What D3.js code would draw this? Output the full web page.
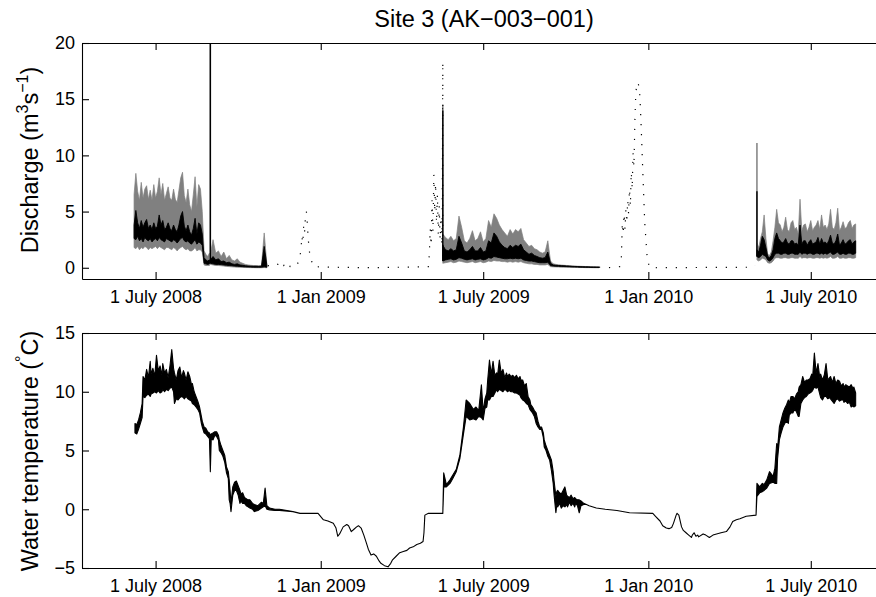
<!DOCTYPE html>
<html>
<head>
<meta charset="utf-8">
<script src="https://cdn.jsdelivr.net/npm/d3@7"></script>
<style>
  body { margin: 0; background: #fff; }
  svg { display: block; font-family: "Liberation Sans", Arial, Helvetica, sans-serif; }
</style>
</head>
<body>
<svg id="chart" width="876" height="597"></svg>
<script>
// ---- discharge bands: grey = bounds, black = estimate (regular steps from a start date) ----
const q08aStart = "2008-06-07", q08aStep = 2;
const q08aGreyHi  = [6.5, 8.4, 6.8, 6.0, 7.6, 6.2, 7.0, 7.3, 6.1, 6.9, 6.0, 7.4, 6.2, 6.8, 8.0, 6.5, 7.5, 6.0, 6.6, 7.2, 6.2, 6.0, 7.0, 6.1, 5.8, 6.9, 8.0, 8.5, 6.4, 5.8, 7.0, 5.6, 5.0, 6.5, 8.1, 5.4, 7.4, 7.0, 5.0, 1.5, 1.2, 1.0, 1.3];
const q08aBlackHi = [3.8, 5.1, 4.0, 3.5, 4.2, 3.6, 4.0, 4.3, 3.5, 3.8, 3.4, 4.0, 3.5, 3.7, 4.7, 3.8, 4.2, 3.4, 3.6, 4.0, 3.5, 3.3, 3.8, 3.4, 3.2, 3.8, 4.6, 5.0, 3.7, 3.3, 3.8, 3.2, 2.9, 3.5, 4.4, 3.0, 4.0, 3.8, 3.0, 0.9, 0.7, 0.6, 0.7];
const q08aBlackLo = [2.6, 2.5, 2.8, 2.4, 2.6, 2.3, 2.7, 2.5, 2.4, 2.6, 2.3, 2.5, 2.6, 2.4, 2.7, 2.5, 2.4, 2.3, 2.6, 2.5, 2.4, 2.3, 2.5, 2.4, 2.2, 2.4, 2.6, 2.7, 2.4, 2.3, 2.4, 2.2, 2.1, 2.3, 2.5, 2.1, 2.3, 2.2, 2.0, 0.4, 0.35, 0.3, 0.35];
const q08aGreyLo  = [1.8, 1.7, 1.9, 1.6, 1.8, 1.7, 1.9, 1.8, 1.6, 1.8, 1.7, 1.8, 1.9, 1.7, 1.9, 1.8, 1.7, 1.6, 1.8, 1.8, 1.7, 1.6, 1.8, 1.7, 1.5, 1.7, 1.8, 1.9, 1.7, 1.6, 1.7, 1.5, 1.5, 1.6, 1.8, 1.5, 1.6, 1.6, 1.4, 0.25, 0.2, 0.2, 0.2];

const q08bStart = "2008-08-31", q08bStep = 3;
const q08bGreyHi  = [1.2, 2.5, 1.3, 1.5, 1.0, 1.4, 0.8, 1.1, 0.7, 0.6, 0.8, 0.5, 0.4, 0.3, 0.25, 0.22, 0.2, 0.2, 0.18, 0.2, 3.1, 0.3];
const q08bBlackHi = [0.7, 1.0, 0.7, 0.8, 0.55, 0.6, 0.45, 0.5, 0.35, 0.3, 0.35, 0.25, 0.22, 0.18, 0.15, 0.14, 0.13, 0.13, 0.12, 0.14, 1.9, 0.2];
const q08bBlackLo = [0.4, 0.35, 0.3, 0.3, 0.28, 0.25, 0.22, 0.2, 0.18, 0.15, 0.14, 0.12, 0.1, 0.08, 0.07, 0.06, 0.05, 0.05, 0.05, 0.05, 0.08, 0.05];
const q08bGreyLo  = [0.3, 0.25, 0.2, 0.2, 0.18, 0.15, 0.12, 0.1, 0.08, 0.06, 0.05, 0.04, 0.03, 0.02, 0.02, 0.01, 0.01, 0.0, 0.0, 0.0, 0.02, 0.0];

const q09Start = "2009-05-17", q09Step = 3;
const q09GreyHi  = [3.0, 2.7, 2.5, 2.8, 2.4, 2.6, 4.6, 3.6, 2.4, 2.2, 2.6, 3.3, 2.4, 2.6, 3.2, 2.3, 2.6, 4.2, 3.6, 4.8, 4.4, 3.8, 3.4, 3.1, 2.8, 3.4, 3.0, 3.4, 3.2, 3.5, 2.5, 2.2, 1.9, 2.0, 1.7, 1.6, 1.4, 1.3, 1.4, 2.4, 0.6, 0.35, 0.3, 0.26, 0.24, 0.22, 0.2, 0.18, 0.16, 0.15, 0.14, 0.13, 0.12, 0.11, 0.1, 0.1, 0.09, 0.09, 0.08];
const q09BlackHi = [2.0, 1.6, 1.5, 1.7, 1.5, 1.6, 2.8, 2.2, 1.5, 1.4, 1.6, 1.9, 1.5, 1.5, 1.8, 1.4, 1.5, 2.4, 2.2, 3.1, 2.8, 2.3, 2.0, 1.8, 1.7, 2.0, 1.8, 2.0, 1.9, 2.1, 1.6, 1.4, 1.2, 1.3, 1.1, 1.0, 0.9, 0.85, 0.9, 1.4, 0.4, 0.25, 0.22, 0.2, 0.19, 0.18, 0.16, 0.15, 0.13, 0.12, 0.11, 0.1, 0.09, 0.08, 0.08, 0.07, 0.07, 0.06, 0.06];
const q09BlackLo = [0.6, 0.7, 0.75, 0.8, 0.7, 0.75, 0.9, 0.85, 0.75, 0.7, 0.75, 0.8, 0.7, 0.75, 0.8, 0.7, 0.75, 0.9, 0.85, 1.0, 0.95, 0.9, 0.85, 0.8, 0.8, 0.85, 0.8, 0.85, 0.8, 0.85, 0.7, 0.65, 0.6, 0.6, 0.55, 0.5, 0.45, 0.45, 0.45, 0.5, 0.2, 0.15, 0.14, 0.13, 0.12, 0.11, 0.1, 0.09, 0.08, 0.07, 0.06, 0.05, 0.05, 0.04, 0.04, 0.03, 0.03, 0.03, 0.02];
const q09GreyLo  = [0.4, 0.45, 0.5, 0.55, 0.45, 0.5, 0.6, 0.55, 0.5, 0.45, 0.5, 0.55, 0.45, 0.5, 0.55, 0.45, 0.5, 0.6, 0.55, 0.65, 0.6, 0.6, 0.55, 0.55, 0.5, 0.55, 0.5, 0.55, 0.5, 0.55, 0.45, 0.4, 0.35, 0.35, 0.3, 0.3, 0.25, 0.25, 0.25, 0.3, 0.1, 0.08, 0.07, 0.06, 0.05, 0.05, 0.04, 0.04, 0.03, 0.03, 0.02, 0.02, 0.02, 0.01, 0.01, 0.01, 0.0, 0.0, 0.0];

const q10Start = "2010-05-02", q10Step = 2;
const q10GreyHi  = [2.2, 1.8, 2.6, 3.2, 4.7, 2.6, 1.2, 1.1, 1.4, 2.4, 3.6, 5.2, 4.0, 3.8, 3.2, 3.6, 4.5, 3.4, 3.2, 4.0, 4.2, 3.4, 3.6, 3.0, 6.1, 3.3, 3.8, 3.9, 3.2, 3.6, 4.2, 3.3, 3.6, 3.8, 4.2, 3.4, 4.7, 3.6, 3.8, 3.4, 3.9, 5.2, 3.6, 3.4, 4.0, 5.3, 3.3, 3.6, 4.1, 3.5, 3.6, 4.0, 4.2, 3.5, 3.8, 3.9];
const q10BlackHi = [1.6, 1.4, 2.0, 2.8, 2.5, 1.8, 1.0, 0.9, 1.1, 1.6, 2.6, 3.1, 2.6, 2.4, 2.2, 2.3, 2.6, 2.2, 2.1, 2.4, 2.4, 2.1, 2.2, 2.0, 3.8, 2.1, 2.4, 2.4, 2.0, 2.3, 2.5, 2.1, 2.2, 2.3, 2.7, 2.1, 2.6, 2.2, 2.3, 2.1, 2.4, 2.9, 2.2, 2.1, 2.4, 3.0, 2.0, 2.2, 2.5, 2.1, 2.2, 2.4, 2.5, 2.1, 2.3, 2.4];
const q10BlackLo = [1.0, 0.9, 1.0, 1.2, 1.1, 1.0, 0.7, 0.6, 0.7, 0.9, 1.2, 1.3, 1.3, 1.2, 1.2, 1.3, 1.3, 1.2, 1.2, 1.3, 1.3, 1.2, 1.2, 1.2, 1.4, 1.2, 1.3, 1.3, 1.2, 1.3, 1.3, 1.2, 1.2, 1.3, 1.3, 1.2, 1.3, 1.2, 1.3, 1.2, 1.3, 1.4, 1.2, 1.2, 1.3, 1.4, 1.2, 1.2, 1.3, 1.2, 1.2, 1.3, 1.3, 1.2, 1.2, 1.3];
const q10GreyLo  = [0.7, 0.6, 0.7, 0.85, 0.8, 0.7, 0.45, 0.4, 0.45, 0.6, 0.85, 0.9, 0.9, 0.85, 0.85, 0.9, 0.9, 0.85, 0.85, 0.9, 0.9, 0.85, 0.85, 0.85, 1.0, 0.85, 0.9, 0.9, 0.85, 0.9, 0.9, 0.85, 0.85, 0.9, 0.9, 0.85, 0.9, 0.85, 0.9, 0.85, 0.9, 1.0, 0.85, 0.85, 0.9, 1.0, 0.85, 0.85, 0.9, 0.85, 0.85, 0.9, 0.9, 0.85, 0.85, 0.9];

// single-reading flow spikes: [date, base, grey peak, black peak]
const flowSpikes = [
  ["2008-08-31", 0.4, 20, 20],
  ["2009-05-17", 0.6, 14.5, 14],
  ["2010-05-02", 1.0, 11.1, 6.8]
];

// ---- winter (estimated) discharge, drawn dotted: [date, value] ----
const winter0809 = [
  ["2008-11-03", 0.2], ["2008-11-08", 0.1], ["2008-11-14", 0.3], ["2008-11-19", 0.6], ["2008-11-21", 0.2],
  ["2008-11-25", 0.5], ["2008-11-28", 0.1], ["2008-12-04", 0.1], ["2008-12-08", 0.6], ["2008-12-10", 1.6],
  ["2008-12-11", 2.8], ["2008-12-12", 2.2], ["2008-12-13", 3.8], ["2008-12-14", 3.2], ["2008-12-15", 4.6],
  ["2008-12-16", 5.0], ["2008-12-17", 4.0], ["2008-12-18", 2.6], ["2008-12-20", 1.0], ["2008-12-24", 0.1],
  ["2009-01-15", 0.05], ["2009-03-01", 0.0], ["2009-05-01", 0.1], ["2009-05-02", 1.3], ["2009-05-03", 3.5],
  ["2009-05-04", 2.0], ["2009-05-05", 6.0], ["2009-05-06", 3.2], ["2009-05-07", 8.3], ["2009-05-08", 5.0],
  ["2009-05-09", 7.5], ["2009-05-10", 4.0], ["2009-05-11", 6.5], ["2009-05-12", 3.0], ["2009-05-13", 5.5],
  ["2009-05-14", 2.5], ["2009-05-15", 4.5], ["2009-05-16", 2.0], ["2009-05-17", 18.3], ["2009-05-17", 0.6]
];
const winter0910 = [
  ["2009-11-07", 0.05], ["2009-11-19", 0.02], ["2009-11-30", 0.1], ["2009-12-02", 1.0], ["2009-12-03", 4.0],
  ["2009-12-04", 3.0], ["2009-12-05", 4.8], ["2009-12-06", 3.4], ["2009-12-07", 5.2], ["2009-12-08", 4.0],
  ["2009-12-09", 6.0], ["2009-12-10", 4.8], ["2009-12-11", 7.0], ["2009-12-12", 5.5], ["2009-12-13", 8.5],
  ["2009-12-14", 7.0], ["2009-12-15", 10.2], ["2009-12-16", 9.0], ["2009-12-17", 13.0], ["2009-12-18", 15.5],
  ["2009-12-19", 16.2], ["2009-12-20", 16.5], ["2009-12-21", 16.3], ["2009-12-22", 16.0], ["2009-12-23", 14.5],
  ["2009-12-24", 12.6], ["2009-12-26", 8.2], ["2009-12-28", 4.0], ["2009-12-31", 0.6], ["2010-01-03", 0.0],
  ["2010-04-28", 0.05], ["2010-04-30", 0.2]
];

// ---- water temperature: [date, low, high] ----
const tempRows = [
  ["2008-06-08", 6.5, 7.3], ["2008-06-10", 6.4, 7.2], ["2008-06-12", 6.8, 7.6], ["2008-06-14", 7.3, 8.2],
  ["2008-06-16", 7.8, 9.0], ["2008-06-17", 9.6, 11.3], ["2008-06-19", 9.5, 11.0], ["2008-06-21", 9.7, 11.9],
  ["2008-06-23", 9.8, 11.2], ["2008-06-25", 9.6, 12.6], ["2008-06-26", 9.8, 11.5], ["2008-06-28", 9.9, 12.0],
  ["2008-06-30", 10.0, 11.3], ["2008-07-02", 9.9, 13.1], ["2008-07-04", 10.1, 11.8], ["2008-07-06", 9.9, 12.2],
  ["2008-07-08", 10.0, 11.4], ["2008-07-09", 10.2, 12.4], ["2008-07-11", 10.0, 11.6], ["2008-07-13", 10.2, 11.9],
  ["2008-07-15", 10.1, 11.2], ["2008-07-17", 10.3, 12.2], ["2008-07-19", 10.4, 13.6], ["2008-07-21", 10.0, 12.0],
  ["2008-07-22", 9.0, 11.6], ["2008-07-24", 9.4, 11.0], ["2008-07-26", 9.3, 11.8], ["2008-07-28", 9.5, 12.1],
  ["2008-07-30", 9.6, 11.2], ["2008-08-01", 9.5, 11.8], ["2008-08-02", 9.4, 11.6], ["2008-08-04", 9.6, 11.0],
  ["2008-08-06", 9.4, 11.7], ["2008-08-08", 9.3, 11.3], ["2008-08-10", 9.2, 10.6], ["2008-08-11", 9.0, 10.7],
  ["2008-08-13", 8.9, 10.0], ["2008-08-15", 8.7, 9.6], ["2008-08-17", 8.5, 9.2], ["2008-08-19", 8.2, 8.7],
  ["2008-08-21", 7.3, 7.9], ["2008-08-22", 7.0, 7.5], ["2008-08-24", 6.5, 7.0], ["2008-08-26", 6.4, 6.9],
  ["2008-08-28", 6.2, 6.6], ["2008-08-30", 6.0, 6.5], ["2008-08-31", 3.2, 6.3], ["2008-09-01", 6.0, 6.4],
  ["2008-09-03", 5.9, 6.5], ["2008-09-05", 6.3, 6.6], ["2008-09-07", 6.2, 6.6], ["2008-09-09", 5.9, 6.3],
  ["2008-09-10", 5.0, 5.9], ["2008-09-12", 4.8, 5.4], ["2008-09-14", 4.5, 5.0], ["2008-09-16", 4.0, 4.6],
  ["2008-09-18", 3.1, 3.6], ["2008-09-20", 2.6, 3.2], ["2008-09-21", 0.8, 2.5], ["2008-09-22", 0.5, 1.6],
  ["2008-09-23", -0.2, 0.5], ["2008-09-25", 1.2, 1.9], ["2008-09-27", 1.6, 2.3], ["2008-09-29", 1.6, 2.4],
  ["2008-10-01", 1.2, 2.0], ["2008-10-03", 0.5, 1.6], ["2008-10-04", 0.7, 1.3], ["2008-10-06", 0.5, 1.4],
  ["2008-10-08", 0.5, 1.0], ["2008-10-10", 0.3, 0.9], ["2008-10-12", 0.2, 0.8], ["2008-10-14", 0.1, 0.8],
  ["2008-10-17", 0.0, 0.5], ["2008-10-19", -0.2, 0.4], ["2008-10-23", -0.1, 0.3], ["2008-10-27", 0.1, 0.6],
  ["2008-10-29", 0.2, 0.5], ["2008-10-31", 0.3, 1.8], ["2008-11-02", 0.0, 0.3], ["2008-11-05", -0.05, 0.1],
  ["2008-11-11", -0.1, 0.0], ["2008-11-16", -0.1, 0.0], ["2008-12-01", -0.2, -0.2], ["2008-12-09", -0.35, -0.35],
  ["2008-12-29", -0.35, -0.35], ["2009-01-04", -0.9, -0.9], ["2009-01-09", -1.0, -1.0], ["2009-01-15", -1.2, -1.2],
  ["2009-01-18", -1.6, -1.6], ["2009-01-20", -2.3, -2.3], ["2009-01-22", -2.1, -2.1], ["2009-01-26", -1.5, -1.5],
  ["2009-01-30", -1.3, -1.3], ["2009-02-01", -1.4, -1.4], ["2009-02-04", -1.9, -1.9], ["2009-02-07", -1.7, -1.7],
  ["2009-02-10", -1.5, -1.5], ["2009-02-12", -1.4, -1.4], ["2009-02-15", -1.6, -1.6], ["2009-02-18", -2.2, -2.2],
  ["2009-02-21", -2.9, -2.9], ["2009-02-23", -3.4, -3.4], ["2009-02-26", -3.9, -3.9], ["2009-03-01", -3.8, -3.8],
  ["2009-03-04", -4.0, -4.0], ["2009-03-07", -4.4, -4.4], ["2009-03-09", -4.6, -4.6], ["2009-03-13", -4.8, -4.8],
  ["2009-03-17", -4.9, -4.9], ["2009-03-20", -4.6, -4.6], ["2009-03-22", -4.3, -4.3], ["2009-03-26", -4.0, -4.0],
  ["2009-03-30", -3.7, -3.7], ["2009-04-03", -3.6, -3.6], ["2009-04-07", -3.5, -3.5], ["2009-04-10", -3.3, -3.3],
  ["2009-04-14", -3.2, -3.2], ["2009-04-18", -3.0, -3.0], ["2009-04-22", -2.9, -2.9], ["2009-04-25", -2.75, -2.75],
  ["2009-04-26", -2.0, -2.0], ["2009-04-27", -0.5, -0.5], ["2009-05-01", -0.35, -0.35], ["2009-05-17", -0.35, -0.35],
  ["2009-05-18", 1.9, 3.1], ["2009-05-21", 1.9, 2.1], ["2009-05-25", 2.2, 2.5], ["2009-05-28", 2.6, 2.9],
  ["2009-06-01", 3.2, 3.4], ["2009-06-05", 4.3, 4.6], ["2009-06-09", 6.4, 7.0], ["2009-06-12", 7.9, 9.3],
  ["2009-06-16", 7.6, 9.0], ["2009-06-20", 7.7, 8.5], ["2009-06-23", 7.6, 8.7], ["2009-06-26", 7.9, 8.4],
  ["2009-06-29", 7.8, 10.6], ["2009-07-01", 7.6, 8.3], ["2009-07-03", 8.6, 9.4], ["2009-07-05", 8.7, 9.9],
  ["2009-07-06", 9.3, 11.0], ["2009-07-08", 9.3, 12.7], ["2009-07-10", 9.6, 11.5], ["2009-07-12", 9.6, 12.6],
  ["2009-07-14", 9.9, 11.4], ["2009-07-16", 10.2, 11.6], ["2009-07-17", 10.0, 11.4], ["2009-07-19", 10.2, 12.7],
  ["2009-07-21", 10.1, 11.6], ["2009-07-23", 10.0, 11.9], ["2009-07-25", 10.2, 11.2], ["2009-07-27", 10.1, 11.6],
  ["2009-07-28", 10.0, 11.3], ["2009-07-30", 10.1, 11.5], ["2009-08-01", 10.0, 11.3], ["2009-08-03", 10.0, 11.4],
  ["2009-08-05", 9.9, 11.2], ["2009-08-07", 9.9, 11.4], ["2009-08-09", 9.8, 11.1], ["2009-08-11", 9.7, 11.3],
  ["2009-08-12", 9.5, 11.0], ["2009-08-14", 9.3, 11.0], ["2009-08-16", 9.2, 10.5], ["2009-08-18", 9.0, 10.7],
  ["2009-08-20", 8.9, 9.6], ["2009-08-22", 8.5, 9.3], ["2009-08-23", 8.4, 8.9], ["2009-08-25", 8.2, 8.7],
  ["2009-08-27", 7.9, 8.4], ["2009-08-29", 7.3, 8.2], ["2009-08-31", 7.0, 7.5], ["2009-09-02", 6.8, 7.0],
  ["2009-09-04", 6.8, 7.0], ["2009-09-06", 6.1, 6.5], ["2009-09-07", 5.3, 5.9], ["2009-09-09", 5.0, 5.4],
  ["2009-09-11", 4.5, 5.0], ["2009-09-13", 4.2, 4.6], ["2009-09-15", 3.3, 4.2], ["2009-09-17", 2.2, 3.2],
  ["2009-09-18", 1.2, 2.4], ["2009-09-20", -0.3, 1.1], ["2009-09-21", 0.4, 1.5], ["2009-09-22", 0.2, 1.6],
  ["2009-09-24", 0.5, 1.4], ["2009-09-26", 0.1, 1.3], ["2009-09-28", 0.3, 1.6], ["2009-09-30", 0.2, 1.9],
  ["2009-10-02", 0.4, 1.2], ["2009-10-03", 0.2, 1.1], ["2009-10-05", 0.6, 1.0], ["2009-10-07", 0.3, 1.2],
  ["2009-10-09", 0.5, 0.9], ["2009-10-11", 0.2, 1.0], ["2009-10-12", 0.5, 0.9], ["2009-10-14", 0.3, 0.8],
  ["2009-10-16", -0.3, 0.8], ["2009-10-18", 0.3, 0.7], ["2009-10-21", 0.4, 0.5], ["2009-10-24", 0.4, 0.4],
  ["2009-10-27", 0.3, 0.3], ["2009-11-04", 0.1, 0.1], ["2009-11-14", 0.0, 0.0], ["2009-11-27", -0.1, -0.1],
  ["2009-12-11", -0.3, -0.3], ["2010-01-06", -0.35, -0.35], ["2010-01-09", -0.6, -0.6], ["2010-01-14", -1.0, -1.0],
  ["2010-01-17", -1.4, -1.4], ["2010-01-21", -1.6, -1.6], ["2010-01-24", -1.65, -1.65], ["2010-01-27", -1.55, -1.55],
  ["2010-01-29", -1.2, -1.2], ["2010-02-01", -0.5, -0.5], ["2010-02-02", -0.35, -0.35], ["2010-02-04", -0.5, -0.5],
  ["2010-02-07", -1.5, -1.5], ["2010-02-09", -1.8, -1.8], ["2010-02-12", -2.0, -2.0], ["2010-02-15", -2.2, -2.2],
  ["2010-02-18", -2.4, -2.4], ["2010-02-19", -2.2, -2.2], ["2010-02-21", -2.0, -2.0], ["2010-02-23", -2.3, -2.3],
  ["2010-02-25", -2.2, -2.2], ["2010-02-26", -2.35, -2.35], ["2010-03-03", -2.1, -2.1], ["2010-03-06", -2.2, -2.2],
  ["2010-03-10", -2.4, -2.4], ["2010-03-14", -2.2, -2.2], ["2010-03-18", -2.1, -2.1], ["2010-03-23", -2.0, -2.0],
  ["2010-03-29", -1.9, -1.9], ["2010-04-02", -1.5, -1.5], ["2010-04-05", -1.05, -1.05], ["2010-04-09", -0.9, -0.9],
  ["2010-04-13", -0.8, -0.8], ["2010-04-20", -0.6, -0.6], ["2010-05-01", -0.5, -0.5], ["2010-05-02", 1.1, 2.2],
  ["2010-05-05", 1.4, 1.9], ["2010-05-08", 1.5, 2.2], ["2010-05-10", 1.6, 2.1], ["2010-05-13", 1.8, 2.5],
  ["2010-05-16", 2.2, 3.2], ["2010-05-20", 2.3, 2.8], ["2010-05-22", 2.2, 3.5], ["2010-05-24", 2.2, 5.6],
  ["2010-05-25", 4.3, 5.2], ["2010-05-27", 5.9, 7.0], ["2010-05-29", 6.5, 7.6], ["2010-05-31", 7.0, 8.2],
  ["2010-06-02", 7.3, 8.6], ["2010-06-04", 7.5, 8.9], ["2010-06-06", 7.3, 9.3], ["2010-06-07", 8.0, 9.0],
  ["2010-06-09", 8.2, 9.6], ["2010-06-11", 8.2, 9.6], ["2010-06-13", 8.5, 9.4], ["2010-06-15", 8.3, 9.8],
  ["2010-06-17", 7.9, 10.0], ["2010-06-18", 7.9, 10.4], ["2010-06-20", 9.0, 10.6], ["2010-06-22", 9.3, 11.3],
  ["2010-06-24", 9.5, 10.8], ["2010-06-26", 9.6, 11.0], ["2010-06-28", 9.8, 11.0], ["2010-06-30", 9.9, 11.1],
  ["2010-07-02", 10.0, 11.5], ["2010-07-03", 10.1, 11.2], ["2010-07-05", 10.4, 13.3], ["2010-07-07", 10.3, 11.6],
  ["2010-07-09", 10.4, 12.4], ["2010-07-11", 9.8, 11.2], ["2010-07-12", 9.5, 11.5], ["2010-07-14", 9.3, 11.0],
  ["2010-07-16", 9.6, 11.4], ["2010-07-18", 9.6, 12.4], ["2010-07-20", 9.4, 11.0], ["2010-07-22", 9.5, 11.2],
  ["2010-07-23", 9.4, 11.3], ["2010-07-25", 9.2, 10.8], ["2010-07-27", 9.0, 11.3], ["2010-07-29", 9.3, 10.7],
  ["2010-07-31", 9.4, 11.0], ["2010-08-02", 9.2, 10.9], ["2010-08-04", 9.3, 10.5], ["2010-08-06", 9.3, 10.7],
  ["2010-08-07", 9.1, 10.4], ["2010-08-09", 9.2, 10.6], ["2010-08-11", 9.0, 10.5], ["2010-08-13", 9.1, 10.4],
  ["2010-08-15", 8.7, 10.6], ["2010-08-17", 8.8, 10.3], ["2010-08-18", 8.7, 10.4], ["2010-08-20", 8.8, 9.9]
];

// ---- axes ----
const xTickDates  = ["2008-07-01", "2009-01-01", "2009-07-01", "2010-01-01", "2010-07-01"];
const xTickLabels = ["1 July 2008", "1 Jan 2009", "1 July 2009", "1 Jan 2010", "1 July 2010"];
const flowTicks = [0, 5, 10, 15, 20];
const tempTicks = [-5, 0, 5, 10, 15];

const parse = d3.timeParse("%Y-%m-%d");
const svg = d3.select("#chart");

const x = d3.scaleTime()
    .domain([parse("2008-04-10"), parse("2010-09-15")])
    .range([82, 879]);
const yQ = d3.scaleLinear().domain([-1, 20]).range([279, 43]);
const yT = d3.scaleLinear().domain([-5, 15]).range([568, 333]);

const flowSegments = [
    { start: q08aStart, step: q08aStep, gHi: q08aGreyHi, gLo: q08aGreyLo, bHi: q08aBlackHi, bLo: q08aBlackLo },
    { start: q08bStart, step: q08bStep, gHi: q08bGreyHi, gLo: q08bGreyLo, bHi: q08bBlackHi, bLo: q08bBlackLo },
    { start: q09Start,  step: q09Step,  gHi: q09GreyHi,  gLo: q09GreyLo,  bHi: q09BlackHi,  bLo: q09BlackLo },
    { start: q10Start,  step: q10Step,  gHi: q10GreyHi,  gLo: q10GreyLo,  bHi: q10BlackHi,  bLo: q10BlackLo }
];

function segRows(seg) {
    const t0 = parse(seg.start);
    return seg.gHi.map((v, i) => ({
        date: d3.timeDay.offset(t0, i * seg.step),
        gHi: v, gLo: seg.gLo[i], bHi: seg.bHi[i], bLo: seg.bLo[i]
    }));
}

const greyArea = d3.area().x(d => x(d.date)).y0(d => yQ(d.gLo)).y1(d => yQ(d.gHi));
const blackArea = d3.area().x(d => x(d.date)).y0(d => yQ(d.bLo)).y1(d => yQ(d.bHi));

const flowG = svg.append("g");
flowSegments.forEach(seg => {
    const rows = segRows(seg);
    flowG.append("path").attr("d", greyArea(rows))
        .attr("fill", "#808080").attr("stroke", "#808080").attr("stroke-width", 0.7);
});
flowSpikes.forEach(s => {
    flowG.append("line")
        .attr("x1", x(parse(s[0]))).attr("x2", x(parse(s[0])))
        .attr("y1", yQ(s[1])).attr("y2", yQ(s[2]))
        .attr("stroke", "#808080").attr("stroke-width", 1.5);
});
flowSegments.forEach(seg => {
    const rows = segRows(seg);
    flowG.append("path").attr("d", blackArea(rows))
        .attr("fill", "#000").attr("stroke", "#000").attr("stroke-width", 0.9);
});
flowSpikes.forEach(s => {
    flowG.append("line")
        .attr("x1", x(parse(s[0]))).attr("x2", x(parse(s[0])))
        .attr("y1", yQ(s[1])).attr("y2", yQ(s[3]))
        .attr("stroke", "#000").attr("stroke-width", 1.4);
});

const dotLine = d3.line().x(d => x(parse(d[0]))).y(d => yQ(d[1]));
[winter0809, winter0910].forEach(w => {
    svg.append("path").attr("d", dotLine(w))
        .attr("fill", "none").attr("stroke", "#000")
        .attr("stroke-width", 1.2).attr("stroke-dasharray", "1.2,8.8");
});

const tempArea = d3.area().x(d => x(parse(d[0]))).y0(d => yT(d[1])).y1(d => yT(d[2]));
svg.append("path").attr("d", tempArea(tempRows))
    .attr("fill", "#000").attr("stroke", "#000")
    .attr("stroke-width", 1.1).attr("stroke-linejoin", "round");

// ---- frames ----
function frame(y, ticks) {
    const [y0, y1] = y.range();
    const g = svg.append("g");
    g.append("g").attr("transform", `translate(82,0)`)
        .call(d3.axisLeft(y).tickValues(ticks).tickSize(-7).tickSizeOuter(0).tickPadding(7))
        .attr("font-family", null).attr("font-size", 18);
    g.append("g").attr("transform", `translate(0,${y0})`)
        .call(d3.axisBottom(x).tickValues(xTickDates.map(parse))
            .tickFormat((d, i) => xTickLabels[i]).tickSize(-7).tickSizeOuter(0).tickPadding(11))
        .attr("font-family", null).attr("font-size", 18);
    g.append("g").attr("transform", `translate(0,${y1})`)
        .call(d3.axisTop(x).tickValues(xTickDates.map(parse)).tickFormat("").tickSize(-7).tickSizeOuter(0));
    g.selectAll(".domain, .tick line").attr("stroke-width", 1.1);
    g.selectAll(".tick text").attr("fill", "#000");
}
frame(yQ, flowTicks);
frame(yT, tempTicks);

// ---- titles ----
svg.append("text").attr("x", 484).attr("y", 27).attr("text-anchor", "middle")
    .attr("font-size", 23.5).text("Site 3 (AK\u2212003\u2212001)");

const qLab = svg.append("text").attr("transform", "translate(38,160) rotate(-90)")
    .attr("text-anchor", "middle").attr("font-size", 23.5);
qLab.append("tspan").text("Discharge (m");
qLab.append("tspan").attr("font-size", 16).attr("dy", -10).text("3");
qLab.append("tspan").attr("dy", 10).text("s");
qLab.append("tspan").attr("font-size", 16).attr("dy", -10).text("\u22121");
qLab.append("tspan").attr("dy", 10).text(")");

const tLab = svg.append("text").attr("transform", "translate(38,451) rotate(-90)")
    .attr("text-anchor", "middle").attr("font-size", 23.5);
tLab.append("tspan").text("Water temperature (");
tLab.append("tspan").attr("font-size", 16).attr("dy", -11).text("\u00b0");
tLab.append("tspan").attr("dy", 11).text("C)");
</script>
</body>
</html>
